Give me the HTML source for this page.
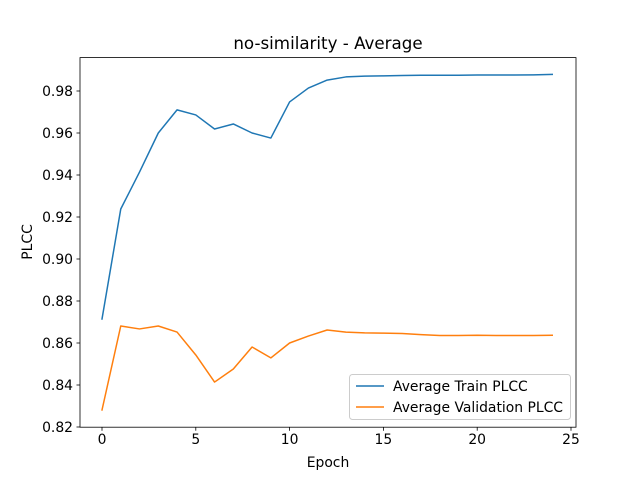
<!DOCTYPE html>
<html><head><meta charset="utf-8"><style>
body{margin:0;background:#fff;}
svg{display:block;font-family:"DejaVu Sans","Liberation Sans",sans-serif;}
</style></head><body>
<svg id="chart" width="640" height="480" viewBox="0 0 640 480">
<rect width="640" height="480" fill="#fff"/>
<text x="328" y="49" font-size="16.7" text-anchor="middle" fill="#000">no-similarity - Average</text>
<g id="plot"></g>
<text x="328" y="467" font-size="13.9" text-anchor="middle">Epoch</text>
<text transform="translate(32,242) rotate(-90)" font-size="13.9" text-anchor="middle">PLCC</text>
<g>
<rect x="349.5" y="374.5" width="221" height="45" rx="3" fill="#fff" fill-opacity="0.8" stroke="#ccc"/>
<line x1="356" y1="386" x2="384" y2="386" stroke="#1f77b4" stroke-width="1.5"/>
<text x="393" y="391" font-size="13.9">Average Train PLCC</text>
<line x1="356" y1="407" x2="384" y2="407" stroke="#ff7f0e" stroke-width="1.5"/>
<text x="393" y="412" font-size="13.9">Average Validation PLCC</text>
</g>
</svg>
<script>
const epochs=[0,1,2,3,4,5,6,7,8,9,10,11,12,13,14,15,16,17,18,19,20,21,22,23,24];
const trainPLCC=[0.8714,0.9238,0.9414,0.960,0.971,0.9686,0.9619,0.9643,0.960,0.9576,0.9748,0.9814,0.9852,0.9867,0.9871,0.9872,0.9874,0.9875,0.9875,0.9875,0.9876,0.9876,0.9876,0.9877,0.9879];
const valPLCC=[0.8281,0.8681,0.8667,0.8681,0.8652,0.8543,0.8414,0.8476,0.8581,0.8529,0.860,0.8633,0.8662,0.8652,0.8648,0.8647,0.8645,0.864,0.8636,0.8636,0.8637,0.8636,0.8636,0.8636,0.8637];
const xTicks=[0,5,10,15,20,25];
const yTicks=[0.82,0.84,0.86,0.88,0.90,0.92,0.94,0.96,0.98];
const L=80,R=576,T=57.6,B=427.2;
const xs=v=>102+v*(571-102)/25;
const ys=v=>427-(v-0.82)*2100;
const NS="http://www.w3.org/2000/svg";
const g=document.getElementById('plot');
function mk(tag,attrs){const e=document.createElementNS(NS,tag);for(const k in attrs)e.setAttribute(k,attrs[k]);g.appendChild(e);return e;}
xTicks.forEach(t=>{
  const x=xs(t);
  const l=mk('line',{x1:x,y1:B,x2:x,y2:B+3.5,stroke:'#000','stroke-width':0.8});
  
  
  const tx=mk('text',{x:x,y:B+17,'font-size':13.9,'text-anchor':'middle'});
  tx.textContent=t;
  
  
});
yTicks.forEach(t=>{
  const y=ys(t);
  const l=mk('line',{x1:L-3.5,y1:y,x2:L,y2:y,stroke:'#000','stroke-width':0.8});
  
  
  const tx=mk('text',{x:L-7,y:y+5,'font-size':13.9,'text-anchor':'end'});
  tx.textContent=t.toFixed(2);
  
  
});
function line(vals,color,name){
  const p=mk('polyline',{points:vals.map((v,i)=>xs(epochs[i])+','+ys(v)).join(' '),fill:'none',stroke:color,'stroke-width':1.5,'stroke-linejoin':'round','stroke-linecap':'square'});
  
  
}
line(trainPLCC,'#1f77b4','train-plcc-line');
line(valPLCC,'#ff7f0e','validation-plcc-line');
const fr=mk('rect',{x:L,y:T,width:R-L,height:B-T,fill:'none',stroke:'#000','stroke-width':0.8});


</script>
</body></html>
